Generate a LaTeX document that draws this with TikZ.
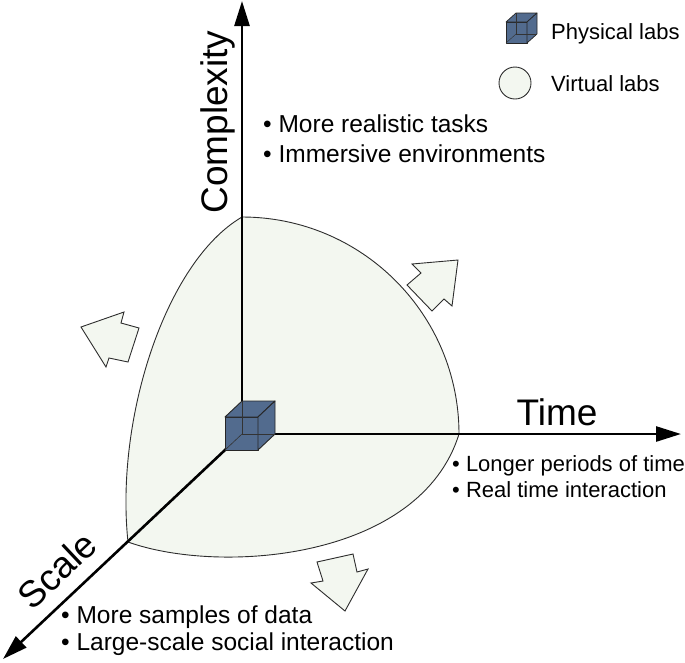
\documentclass[tikz,border=0pt]{standalone}
\usepackage{fontspec}
\setmainfont{Liberation Sans}
\usetikzlibrary{arrows.meta}

\definecolor{labfill}{RGB}{243,247,240}
\definecolor{cubeblue}{RGB}{82,107,142}
\definecolor{edgegray}{RGB}{45,45,45}

\begin{document}
\begin{tikzpicture}[x=1pt,y=-1pt]
%
% Skiss:
%            Complexity
%                ʌ
%                |   virtual labs = curved region round the origin
%                |
%      physical labs = cube at origin ------> Time
%               /
%              V
%           Scale
%
% Styles
\tikzstyle{axis} = [line width=2.6pt,->,>={Triangle[length=25pt,width=15pt]}]
\tikzstyle{axislabel} = [inner sep=0pt, font=\fontsize{37}{44}\selectfont]
\tikzstyle{bullet} = [inner sep=0pt, anchor=base west, font=\fontsize{24.5}{29}\selectfont]
\tikzstyle{legendtext} = [inner sep=0pt, anchor=base west, font=\fontsize{22}{26}\selectfont]
\tikzstyle{region} = [fill=labfill, draw=edgegray, line width=0.9pt]
\tikzstyle{growth} = [fill=labfill, draw=edgegray, line width=0.9pt, line join=miter]
\tikzstyle{cubeface} = [fill=cubeblue, draw=black!85, line width=0.9pt, line join=round]
\tikzstyle{hidden} = [draw=black!80, line width=0.6pt]
\useasboundingbox (0,0) rectangle (685,662);
% Coordinates
\coordinate (origin) at (242,434);
\coordinate (complexity_end) at (242,1);
\coordinate (time_end) at (681,434);
\coordinate (scale_end) at (3,659);
\coordinate (top) at (242,217);
\coordinate (right) at (459,434);
\coordinate (left) at (128,542);
% Virtual labs region
\draw [region] (top) .. controls (361.8,217) and (459,314.2) .. (right)
  .. controls (420,560) and (220,575) .. (left)
  .. controls (115,420) and (165,262) .. (top) -- cycle;
% Growth arrows
\draw [growth] (81,327) -- (124,312) -- (121,323) -- (139,328) -- (128,362) -- (109,358) -- (106,367) -- cycle;
\draw [growth] (458,260) -- (412,264) -- (421,273) -- (407,285) -- (432,311) -- (444,299) -- (452,306) -- cycle;
\draw [growth] (345,611) -- (311,583) -- (323,581) -- (317,562) -- (353,554) -- (357,572) -- (368,569) -- cycle;
% Axes
\draw [axis] (origin) -- (complexity_end);
\draw [axis] (origin) -- (time_end);
\draw [axis] (origin) -- (scale_end);
% Physical labs cube at origin
\draw [cubeface] (225,417) rectangle (258,450);
\draw [cubeface] (225,417) -- (242,401) -- (275,401) -- (258,417) -- cycle;
\draw [cubeface] (258,417) -- (275,401) -- (275,434) -- (258,450) -- cycle;
\draw [hidden] (242,401) -- (origin) -- (275,434);
\draw [hidden] (origin) -- (225,450);
% Axis labels
\node (complexity) [axislabel, rotate=90, anchor=base] at (227,122) {Complexity};
\node (time) [axislabel, anchor=base] at (557,425) {Time};
\node (scale) [axislabel, rotate=43.3] at (57,570) {Scale};
% Bullets
\node (complexity_a) [bullet] at (263,132) {• More realistic tasks};
\node (complexity_b) [bullet] at (263,162) {• Immersive environments};
\node (time_a) [bullet, font=\fontsize{22}{26}\selectfont] at (452,471) {• Longer periods of time};
\node (time_b) [bullet, font=\fontsize{22}{26}\selectfont] at (452,497) {• Real time interaction};
\node (scale_a) [bullet] at (61,623) {• More samples of data};
\node (scale_b) [bullet] at (61,650) {• Large-scale social interaction};
% Legend
\draw [cubeface, line width=0.7pt] (506,22) rectangle (527,43);
\draw [cubeface, line width=0.7pt] (506,22) -- (516,13) -- (537,13) -- (527,22) -- cycle;
\draw [cubeface, line width=0.7pt] (527,22) -- (537,13) -- (537,34) -- (527,43) -- cycle;
\draw [hidden, line width=0.4pt] (516,13) -- (516,34) -- (537,34);
\draw [hidden, line width=0.4pt] (516,34) -- (506,43);
\node (physical) [legendtext] at (551,39) {Physical labs};
\draw [region] (515,83) circle (16pt);
\node (virtual) [legendtext] at (551,91) {Virtual labs};
\end{tikzpicture}
\end{document}
